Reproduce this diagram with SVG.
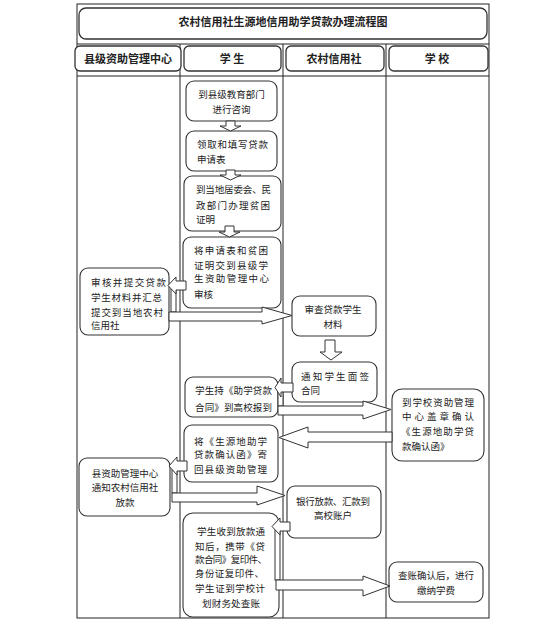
<svg xmlns="http://www.w3.org/2000/svg" width="548" height="624" viewBox="0 0 548 624">
<style>
.frame{fill:none;stroke:#222;stroke-width:1}
.box{fill:#fff;stroke:#333;stroke-width:1.1}
.hdr{fill:#fff;stroke:#333;stroke-width:1.3}
.arr{fill:#fff;stroke:#333;stroke-width:1}
text{font-family:"Noto Sans CJK SC","Noto Sans",sans-serif;fill:#222}
.t{font-size:9.5px}
.c{text-anchor:middle}
.b{font-size:11px;font-weight:bold;text-anchor:middle}
</style>
<rect width="548" height="624" fill="#fff"/>
<g id="frame">
<rect class="frame" x="77" y="4" width="412" height="614"/>
<line class="frame" x1="77" y1="44" x2="489" y2="44"/>
<line class="frame" x1="77" y1="76" x2="489" y2="76"/>
<line class="frame" x1="180" y1="44" x2="180" y2="618"/>
<line class="frame" x1="283" y1="44" x2="283" y2="618"/>
<line class="frame" x1="386" y1="44" x2="386" y2="618"/>
</g>
<g id="title">
<rect class="hdr" x="79" y="8" width="408" height="31" rx="7"/>
<text class="b" x="283" y="26">农村信用社生源地信用助学贷款办理流程图</text>
</g>
<g id="h1"><rect class="hdr" x="75" y="46" width="106" height="25" rx="5"/><text class="b" x="128" y="62.5">县级资助管理中心</text></g>
<g id="h2"><rect class="hdr" x="184" y="46" width="97" height="25" rx="5"/><text class="b" x="232" y="62.5">学 生</text></g>
<g id="h3"><rect class="hdr" x="286" y="46" width="98" height="25" rx="5"/><text class="b" x="334" y="62.5">农村信用社</text></g>
<g id="h4"><rect class="hdr" x="389" y="46" width="99" height="25" rx="5"/><text class="b" x="437" y="62.5">学 校</text></g>

<g id="s1"><rect class="box" x="186" y="81" width="91" height="40" rx="8"/>
<text class="t c" x="231.5" y="97.5">到县级教育部门</text><text class="t c" x="231.5" y="112.5">进行咨询</text></g>
<g id="s2"><rect class="box" x="186" y="131" width="91" height="40" rx="8"/>
<text class="t" x="197" y="147.5" textLength="71">领取和填写贷款</text><text class="t" x="197" y="162.5">申请表</text></g>
<g id="s3"><rect class="box" x="184" y="176" width="97" height="55" rx="8"/>
<text class="t" x="196" y="192.5" textLength="75">到当地居委会、民</text><text class="t" x="196" y="208.5" textLength="74">政部门办理贫困</text><text class="t" x="196" y="222.5">证明</text></g>
<g id="s4"><rect class="box" x="183" y="237" width="98" height="71" rx="8"/>
<text class="t" x="194" y="253.5" textLength="74">将申请表和贫困</text><text class="t" x="194" y="268.5" textLength="74">证明交到县级学</text><text class="t" x="194" y="282" textLength="75">生资助管理中心</text><text class="t" x="194" y="297.5">审核</text></g>
<g id="c1"><rect class="box" x="80" y="268" width="89" height="67" rx="8"/>
<text class="t" x="91" y="285.5" textLength="75">审核并提交贷款</text><text class="t" x="91" y="300.5" textLength="71">学生材料并汇总</text><text class="t" x="91" y="315.5" textLength="72">提交到当地农村</text><text class="t" x="91" y="329">信用社</text></g>
<g id="r1"><rect class="box" x="292" y="296" width="84" height="40" rx="8"/>
<text class="t c" x="333" y="312.5">审查贷款学生</text><text class="t c" x="333" y="327.5">材料</text></g>
<g id="r2"><rect class="box" x="292" y="362" width="85" height="40" rx="8"/>
<text class="t" x="301" y="379.5" textLength="68">通知学生面签</text><text class="t" x="301" y="393.5">合同</text></g>
<g id="s5"><rect class="box" x="185" y="377" width="93" height="40" rx="8"/>
<text class="t" x="195" y="393.5" textLength="77">学生持《助学贷款</text><text class="t" x="195" y="410.5" textLength="77">合同》到高校报到</text></g>
<g id="x1"><rect class="box" x="392" y="389" width="92" height="72" rx="10"/>
<text class="t" x="402" y="406" textLength="72">到学校资助管理</text><text class="t" x="402" y="420" textLength="72">中心盖章确认</text><text class="t" x="401" y="435" textLength="73">《生源地助学贷</text><text class="t" x="402" y="450">款确认函》</text></g>
<g id="s6"><rect class="box" x="184" y="425" width="94" height="57" rx="8"/>
<text class="t" x="194" y="444.5" textLength="73">将《生源地助学</text><text class="t" x="194" y="458" textLength="73">贷款确认函》寄</text><text class="t" x="194" y="472.5" textLength="73">回县级资助管理</text></g>
<g id="c2"><rect class="box" x="79" y="458" width="91" height="58" rx="8"/>
<text class="t c" x="125" y="476.5">县资助管理中心</text><text class="t c" x="125" y="490.5">通知农村信用社</text><text class="t c" x="125" y="505.5">放款</text></g>
<g id="r3"><rect class="box" x="287" y="486" width="94" height="52" rx="8"/>
<text class="t c" x="333" y="504.5" textLength="74">银行放款、汇款到</text><text class="t c" x="333" y="518.5">高校账户</text></g>
<g id="s7"><rect class="box" x="183" y="513" width="96" height="104" rx="10"/>
<text class="t" x="197" y="534.5" textLength="68">学生收到放款通</text><text class="t" x="195" y="549.5" textLength="70">知后，携带《贷</text><text class="t" x="195" y="563" textLength="72">款合同》复印件、</text><text class="t" x="195" y="577" textLength="69">身份证复印件、</text><text class="t" x="195" y="591.5" textLength="70">学生证到学校计</text><text class="t" x="202" y="606.5" textLength="58">划财务处查账</text></g>
<g id="x2"><rect class="box" x="389" y="562" width="94" height="40" rx="8"/>
<text class="t c" x="436" y="578.5">查账确认后，进行</text><text class="t c" x="436" y="593.5">缴纳学费</text></g>

<g id="connectors">
<polygon class="arr" points="226,121 235,121 235,126 241,126 230.5,131 220,126 226,126"/>
<polygon class="arr" points="226,170 235,170 235,175 241,175 230.5,180 220,175 226,175"/>
<polygon class="arr" points="225,226 234,226 234,232 240,232 229.5,237 219,232 225,232"/>
<polygon class="arr" points="325,340 335,340 335,352 342,352 331,360 320,352 325,352"/>
<rect class="arr" x="171" y="289" width="5" height="23"/>
<polygon class="arr" points="186,281 176,281 176,277 168,285.5 176,294 176,290 186,290"/>
<polygon class="arr" points="169,312 262,312 262,307 292,315.5 262,324 262,321 169,321"/>
<rect class="arr" x="278" y="391" width="5" height="15"/>
<polygon class="arr" points="293,383 281,383 281,378 275,387.5 281,397 281,392 293,392"/>
<polygon class="arr" points="278,406 363,406 363,401 391,409.5 363,419 363,415 278,415"/>
<polygon class="arr" points="392,432 308,432 308,427 279,437.5 308,448 308,442 392,442"/>
<rect class="arr" x="172" y="470" width="5" height="23"/>
<polygon class="arr" points="187,461 177,461 177,457 169,466 177,475 177,471 187,471"/>
<polygon class="arr" points="172,493 257,493 257,486 285,495.5 257,505 257,502 172,502"/>
<rect class="arr" x="275" y="530" width="5" height="50"/>
<polygon class="arr" points="290,522 280,522 280,518 272,526.5 280,535 280,531 290,531"/>
<polygon class="arr" points="276,580 363,580 363,576 390,586 363,596 363,590 276,590"/>
</g>
</svg>
